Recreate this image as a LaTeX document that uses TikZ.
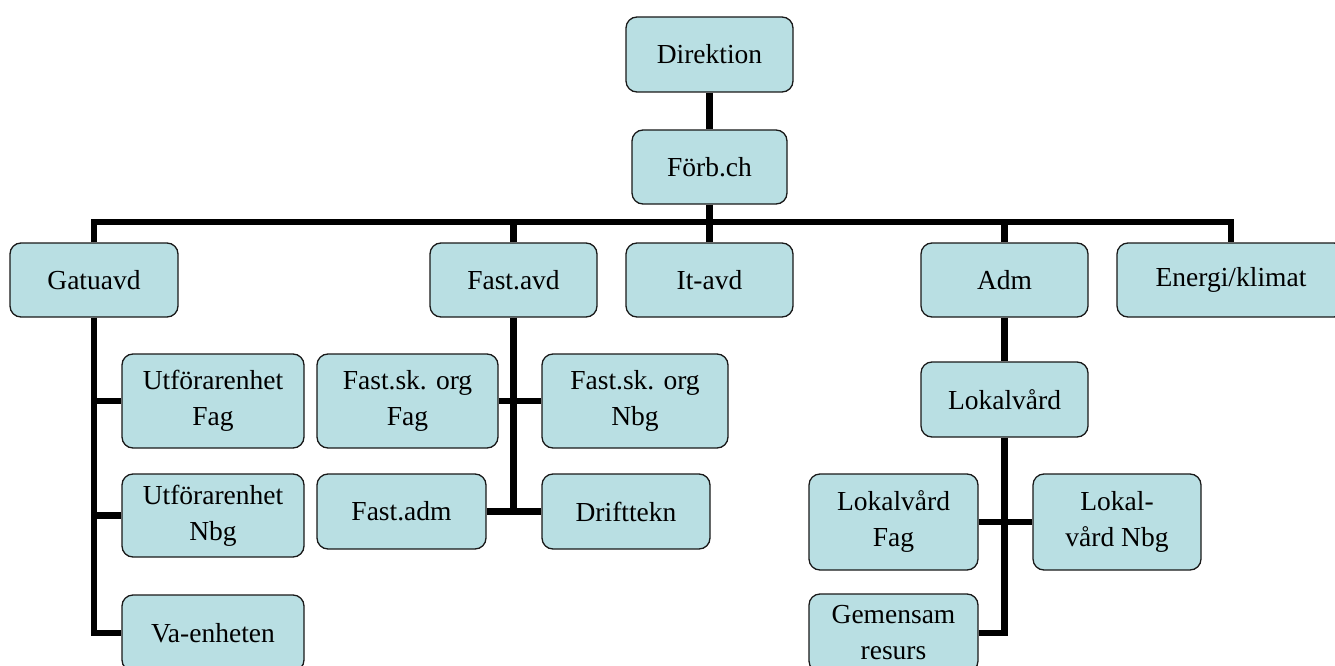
\documentclass[tikz,border=0pt]{standalone}
\usepackage{fontspec}
\setmainfont{Liberation Serif}
\definecolor{boxfill}{RGB}{185,223,227}
\tikzset{
  unit/.style={draw=black!90, line width=1.3pt, fill=boxfill, rounded corners=11pt,
    align=center, inner sep=0pt, font=\fontsize{27.5}{36}\selectfont},
  link/.style={line width=6.5pt}
}
\begin{document}
\begin{tikzpicture}[x=1pt,y=-1pt]
\useasboundingbox (0,0) rectangle (1335,666);
\node[unit, minimum width=167, minimum height=75] (dir) at (709.5,54.5) {Direktion};
\node[unit, minimum width=155, minimum height=74] (forb) at (709.5,167) {Förb.ch};
\node[unit, minimum width=168, minimum height=74] (gatu) at (94,280) {Gatuavd};
\node[unit, minimum width=167, minimum height=74] (fast) at (513.5,280) {Fast.avd};
\node[unit, minimum width=167, minimum height=74] (itavd) at (709.5,280) {It-avd};
\node[unit, minimum width=167, minimum height=74] (adm) at (1004.5,280) {Adm};
\node[unit, minimum width=228, minimum height=74] (energi) at (1231,280) {Energi/klimat};
\node[unit, minimum width=182, minimum height=94] (utfag) at (213,401) {Utförarenhet\\Fag};
\node[unit, minimum width=182, minimum height=83] (utnbg) at (213,515.5) {Utförarenhet\\Nbg};
\node[unit, minimum width=182, minimum height=76] (va) at (213,633) {Va-enheten};
\node[unit, minimum width=181, minimum height=94] (fsfag) at (407.5,401) {Fast.sk. org\\Fag};
\node[unit, minimum width=186, minimum height=94] (fsnbg) at (635,401) {Fast.sk. org\\Nbg};
\node[unit, minimum width=169, minimum height=75] (fadm) at (401.5,511.5) {Fast.adm};
\node[unit, minimum width=168, minimum height=75] (drift) at (626,511.5) {Drifttekn};
\node[unit, minimum width=167, minimum height=75] (lokal) at (1004.5,399.5) {Lokalvård};
\node[unit, minimum width=169, minimum height=96] (lvfag) at (893.5,522) {Lokalvård\\Fag};
\node[unit, minimum width=168, minimum height=96] (lvnbg) at (1117,522) {Lokal-\\vård Nbg};
\node[unit, minimum width=169, minimum height=78] (gem) at (893.5,633) {Gemensam\\resurs};
% connectors
\coordinate (bus) at (709.5,222);
\draw[link] (dir.south) -- (forb.north);
\draw[link] (forb.south) -- (bus);
\draw[link] (gatu.north) |- (bus) -| (energi.north);
\foreach \n in {fast,itavd,adm}
  \draw[link] (\n.north) -- (\n.north |- bus);
% Gatuavd
\draw[link] (gatu.south) |- (va.west);
\draw[link] (gatu.south |- utfag.west) -- (utfag.west);
\draw[link] (gatu.south |- utnbg.west) -- (utnbg.west);
% Fast.avd
\draw[link] (fast.south) -- (fast.south |- drift.west);
\draw[link] (fsfag.east) -- (fsnbg.west);
\draw[link] (fadm.east) -- (drift.west);
% Adm
\draw[link] (adm.south) -- (lokal.north);
\draw[link] (lokal.south) |- (gem.east);
\draw[link] (lvfag.east) -- (lvnbg.west);
\end{tikzpicture}
\end{document}
